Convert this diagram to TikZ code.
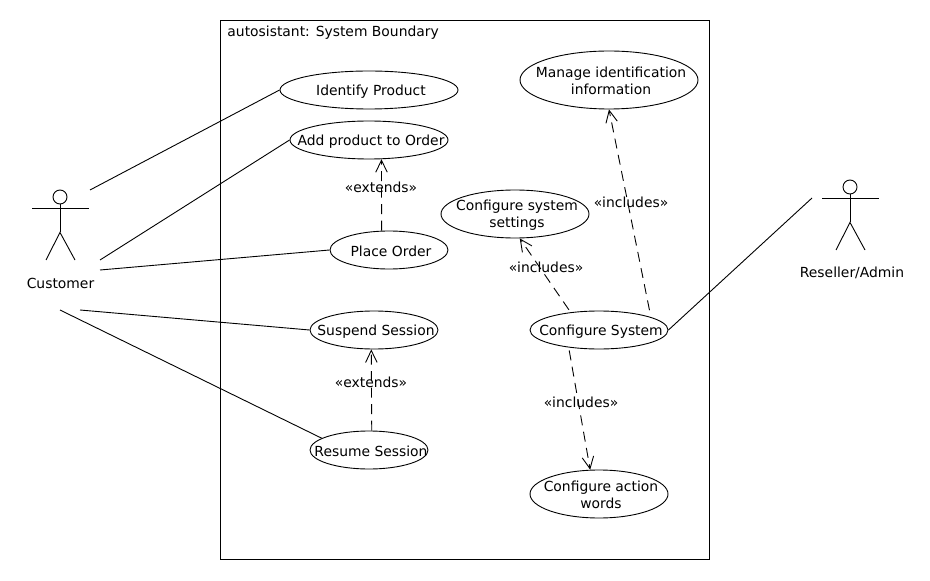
\documentclass[tikz,border=0pt]{standalone}
\usepackage{fontspec}
\setmainfont{DejaVu Sans}
\usetikzlibrary{arrows.meta, shapes.geometric}

\begin{document}
\begin{tikzpicture}[
    line width=0.018cm,
    >={Straight Barb[length=0.24cm, width=0.23cm]},
    usecase/.style={draw, ellipse, inner sep=0pt, minimum width=#1},
    plaintext/.style={font=\fontsize{7.9}{9.6}\selectfont, align=center},
    uctext/.style={plaintext, xshift=0.04cm, yshift=-0.025cm},
    actorhead/.style={draw, circle, inner sep=0pt, minimum size=0.28cm},
    dep/.style={dashed, dash pattern=on 0.2cm off 0.13cm, ->},
]
    \useasboundingbox (0, 0) rectangle (18.6, 11.6);

    % System boundary
    \node[draw, minimum width=9.78cm, minimum height=10.78cm, inner sep=0pt] (boundary) at (9.29, 5.81) {};
    \node[plaintext, anchor=west, inner sep=0pt] (boundarytitle) at (4.54, 10.94) {autosistant: System Boundary};

    % Left column
    \node[usecase=3.56cm, minimum height=0.76cm] (identify) at (7.38, 9.8) {};
    \node[uctext] (identifytext) at (identify) {Identify Product};
    \node[usecase=3.16cm, minimum height=0.76cm] (addproduct) at (7.38, 8.8) {};
    \node[uctext] (addproducttext) at (addproduct) {Add product to Order};
    \node[usecase=2.36cm, minimum height=0.76cm] (placeorder) at (7.78, 6.6) {};
    \node[uctext] (placeordertext) at (placeorder) {Place Order};
    \node[usecase=2.56cm, minimum height=0.76cm] (suspend) at (7.48, 5.0) {};
    \node[uctext] (suspendtext) at (suspend) {Suspend Session};
    \node[usecase=2.36cm, minimum height=0.76cm] (resume) at (7.38, 2.6) {};
    \node[uctext] (resumetext) at (resume) {Resume Session};

    % Right column
    \node[usecase=3.56cm, minimum height=1.16cm] (manage) at (12.18, 10.0) {};
    \node[uctext] (managetext) at (manage) {Manage identification\\information};
    \node[usecase=2.96cm, minimum height=0.96cm] (settings) at (10.3, 7.32) {};
    \node[uctext] (settingstext) at (settings) {Configure system\\settings};
    \node[usecase=2.76cm, minimum height=0.76cm] (system) at (11.98, 5.0) {};
    \node[uctext] (systemtext) at (system) {Configure System};
    \node[usecase=2.76cm, minimum height=0.96cm] (action) at (11.98, 1.72) {};
    \node[uctext] (actiontext) at (action) {Configure action\\words};

    % Customer
    \node[actorhead] (customerhead) at (1.2, 7.66) {};
    \draw (customerhead.south) -- ++(0, -0.56) coordinate (customerhip);
    \draw (0.64, 7.44) -- (1.78, 7.44);
    \draw (0.92, 6.4) -- (customerhip) -- (1.5, 6.4);
    \node[plaintext] (customer) at (1.21, 5.94) {Customer};

    % Reseller
    \node[actorhead] (resellerhead) at (17.0, 7.86) {};
    \draw (resellerhead.south) -- ++(0, -0.56) coordinate (resellerhip);
    \draw (16.44, 7.64) -- (17.58, 7.64);
    \draw (16.72, 6.6) -- (resellerhip) -- (17.3, 6.6);
    \node[plaintext] (reseller) at (17.04, 6.14) {Reseller/Admin};

    % Free ends of the actor lines
    \coordinate (custA) at (1.8, 7.8);
    \coordinate (custB) at (2.0, 6.4);
    \coordinate (custC) at (2.0, 6.2);
    \coordinate (custD) at (1.6, 5.4);
    \coordinate (custE) at (1.2, 5.4);
    \coordinate (resA) at (16.24, 7.64);

    \draw (custA) -- (identify.west);
    \draw (custB) -- (addproduct.west);
    \draw (custC) -- (placeorder.west);
    \draw (custD) -- (suspend.west);
    \draw (custE) -- (resume.166);
    \draw (resA) -- (system.east);

    % Dependencies
    \draw[dep] (placeorder.111.6) -- (addproduct.303.7);
    \node[plaintext] (extendsA) at (7.62, 7.86) {«extends»};
    \draw[dep] (resume.82.5) -- (suspend.262.5);
    \node[plaintext] (extendsB) at (7.42, 3.96) {«extends»};
    \draw[dep, shorten <=0.14cm] (system.14) -- (manage.south);
    \node[plaintext] (includesA) at (12.62, 7.56) {«includes»};
    \draw[dep, shorten <=0.06cm] (system.148) -- (settings.281);
    \node[plaintext] (includesB) at (10.92, 6.26) {«includes»};
    \draw[dep, shorten <=0.06cm] (system.210) -- (action.110);
    \node[plaintext] (includesC) at (11.62, 3.56) {«includes»};
\end{tikzpicture}
\end{document}
